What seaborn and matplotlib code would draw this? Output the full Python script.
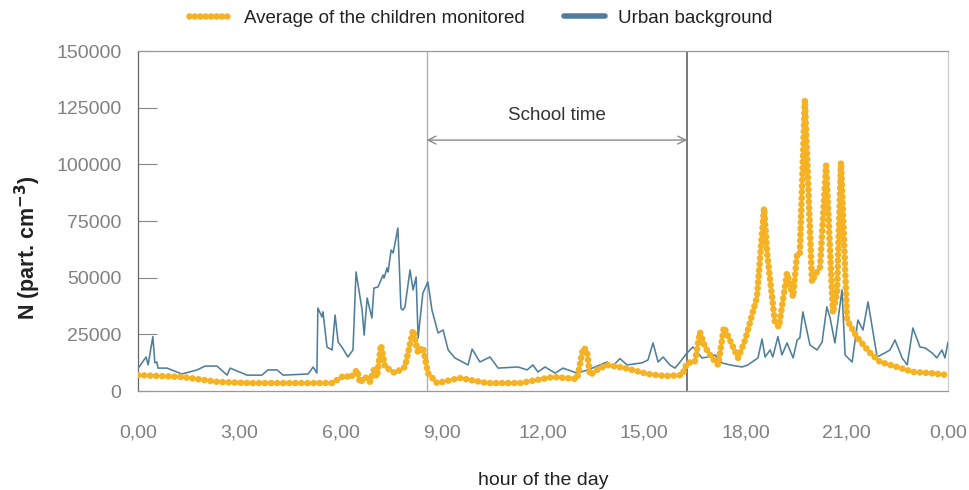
import matplotlib
matplotlib.use("Agg")
import matplotlib.pyplot as plt
from matplotlib.lines import Line2D
import seaborn as sns
import pandas as pd

# Urban background station (hour of day, particles per cm3)
urban_hours = [0.00, 0.24, 0.30, 0.44, 0.50, 0.56, 0.59, 0.86, 1.30, 1.75, 1.99, 2.34, 2.64, 2.73,
               3.23, 3.67, 3.85, 4.12, 4.30, 5.04, 5.19, 5.30, 5.33, 5.45, 5.48, 5.60, 5.75, 5.84,
               5.93, 6.04, 6.22, 6.37, 6.46, 6.64, 6.70, 6.79, 6.93, 6.99, 7.11, 7.20, 7.26, 7.29,
               7.38, 7.41, 7.50, 7.56, 7.70, 7.79, 7.85, 7.91, 8.06, 8.15, 8.24, 8.30, 8.44, 8.59,
               8.71, 8.89, 9.04, 9.19, 9.39, 9.78, 9.90, 10.13, 10.43, 10.67, 11.26, 11.53, 11.70,
               11.85, 12.06, 12.36, 12.59, 13.01, 13.33, 13.90, 14.04, 14.28, 14.49, 14.93, 15.11,
               15.26, 15.41, 15.56, 15.76, 15.91, 16.06, 16.27, 16.44, 16.71, 16.89, 17.10, 17.30,
               17.54, 17.90, 18.07, 18.37, 18.49, 18.58, 18.73, 18.81, 18.96, 19.08, 19.23, 19.41,
               19.53, 19.61, 19.70, 19.91, 20.12, 20.27, 20.41, 20.50, 20.65, 20.86, 20.95, 21.16,
               21.33, 21.48, 21.63, 21.90, 22.13, 22.28, 22.43, 22.64, 22.79, 22.96, 23.17, 23.32,
               23.53, 23.67, 23.82, 23.91, 24.00]
urban_bg = [10000, 15000, 11500, 24000, 12400, 12800, 10100, 10100, 7500, 9300, 11000, 11000, 7000, 10100,
            7000, 7000, 9300, 9300, 7000, 7500, 10600, 7900, 36600, 32700, 34900, 19400, 18100, 33500,
            21600, 19400, 15000, 18100, 52500, 35700, 24700, 41000, 32200, 45400, 45900, 49000, 51200, 49800,
            54300, 52500, 62200, 60900, 71900, 36600, 35700, 37100, 53400, 44600, 50300, 23400, 43200, 48100,
            35700, 25600, 26900, 18100, 14600, 11500, 18500, 12800, 15000, 10100, 10600, 9300, 11500,
            8400, 10600, 7900, 10100, 7900, 9300, 12800, 10600, 14300, 11500, 12400, 13700,
            21200, 12800, 15000, 11500, 10100, 12800, 16800, 19400, 14600, 15000, 15900, 12400,
            11500, 10600, 11500, 14600, 22900, 15000, 18100, 15000, 24000, 15900, 21200, 14600,
            22500, 23400, 34900, 20300, 18100, 21600, 37100, 32700, 21200, 44600, 15900, 12800,
            31300, 26900, 39300, 15000, 16800, 18100, 22500, 14600, 11500, 27800, 19400, 19000,
            16800, 14600, 18100, 14600, 21600]

# Average exposure of the monitored children
child_hours = [0.00, 1.30, 2.37, 3.32, 5.75, 6.13, 6.28, 6.49, 6.58, 6.73, 6.87, 6.99, 7.08, 7.20,
               7.32, 7.47, 7.61, 7.91, 8.15, 8.30, 8.44, 8.59, 8.86, 9.54, 10.34, 11.32, 12.30,
               13.01, 13.19, 13.30, 13.39, 13.60, 13.90, 14.43, 15.11, 15.61, 16.12, 16.27, 16.50,
               16.65, 16.80, 17.01, 17.19, 17.36, 17.78, 17.99, 18.34, 18.55, 18.64, 18.87, 18.99,
               19.23, 19.41, 19.53, 19.61, 19.76, 19.97, 20.03, 20.21, 20.39, 20.59, 20.71, 20.83,
               21.01, 21.30, 21.69, 21.99, 22.49, 22.96, 23.47, 24.00]
child_avg = [7000, 6200, 4000, 3500, 3500, 7000, 5700, 9300, 3500, 6200, 4000, 9300, 6200, 20300,
             10600, 9300, 7900, 10600, 26900, 16800, 19400, 7900, 3500, 5700, 3500, 3500, 6200,
             5300, 19000, 18000, 7000, 9300, 11500, 10100, 7500, 6600, 7000, 12400, 12800,
             26000, 19400, 14600, 11500, 28200, 14600, 22500, 41500, 80700, 60900, 30400, 28200,
             52000, 41500, 60900, 60900, 128400, 48100, 50300, 54700, 99700, 34400, 43200, 101000,
             31300, 23800, 16800, 12800, 10600, 8400, 7900, 7000]

x_ticks = [0, 3, 6, 9, 12, 15, 18, 21, 24]
x_tick_labels = ["0,00", "3,00", "6,00", "9,00", "12,00", "15,00", "18,00", "21,00", "0,00"]
y_ticks = [0, 25000, 50000, 75000, 100000, 125000, 150000]
school_start, school_end = 8.55, 16.27

ORANGE = "#F5B224"
BLUE = "#4F7E9C"
DOTS = (0, (0.01, 0.9))

sns.set_theme(style="white")
plt.rcParams["font.family"] = ["Liberation Sans", "DejaVu Sans"]

urban_df = pd.DataFrame({"hour": urban_hours, "N": urban_bg})
child_df = pd.DataFrame({"hour": child_hours, "N": child_avg})

fig = plt.figure(figsize=(9.7, 4.9), dpi=100)
ax = fig.add_axes([138 / 970, 1 - 391 / 490, 810 / 970, 340 / 490])

sns.lineplot(data=urban_df, x="hour", y="N", ax=ax, color=BLUE, linewidth=1.15,
             estimator=None, sort=False, zorder=3)
sns.lineplot(data=child_df, x="hour", y="N", ax=ax, color=ORANGE, linewidth=4.8,
             linestyle=DOTS, dash_capstyle="round",
             estimator=None, sort=False, zorder=4)

# School time markers
ax.axvline(school_start, color="#b0b0b0", linewidth=1.0, zorder=2)
ax.axvline(school_end, color="#555555", linewidth=1.1, zorder=2)
ax.annotate("", xy=(school_start, 110700), xytext=(school_end, 110700),
            arrowprops=dict(arrowstyle="<->", color="#8a8a8a", lw=1.0,
                            shrinkA=0, shrinkB=0, mutation_scale=14))
ax.text((school_start + school_end) / 2, 121500, "School time", ha="center", va="center",
        fontsize=13.5, color="#333333")

ax.set_xlim(0, 24)
ax.set_ylim(0, 150000)
ax.set_xticks(x_ticks)
ax.set_xticklabels(x_tick_labels)
ax.set_yticks(y_ticks)
ax.set_yticklabels([str(v) for v in y_ticks])
ax.tick_params(axis="x", direction="out", length=15, width=0.8, color="#999999",
               pad=9, labelsize=14, labelcolor="#808080")
ax.tick_params(axis="y", direction="in", length=14, width=0.8, color="#888888",
               pad=12, labelsize=14, labelcolor="#808080", left=True)
ax.grid(False)

for name, col in [("left", "#666666"), ("bottom", "#999999"), ("top", "#999999"), ("right", "#cccccc")]:
    ax.spines[name].set_visible(True)
    ax.spines[name].set_color(col)
    ax.spines[name].set_linewidth(0.9)

ax.set_xlabel("hour of the day", fontsize=14, color="#222222", labelpad=22)
ax.set_ylabel(r"N (part. cm$^{\mathbf{-3}}$)", fontsize=15.5, fontweight="bold", color="#222222")
ax.yaxis.set_label_coords(-0.117, 0.42)

handles = [
    Line2D([], [], color=ORANGE, linewidth=4.8, linestyle=(0, (0.01, 0.8)), dash_capstyle="round"),
    Line2D([], [], color=BLUE, linewidth=4.0, solid_capstyle="round"),
]
fig.legend(handles, ["Average of the children monitored", "Urban background"],
           loc="center", bbox_to_anchor=(0.496, 0.963), ncol=2, frameon=False,
           fontsize=13.5, handlelength=2.2, handletextpad=0.7, columnspacing=2.1,
           labelcolor="#222222")

fig.savefig("out.png", dpi=100)
